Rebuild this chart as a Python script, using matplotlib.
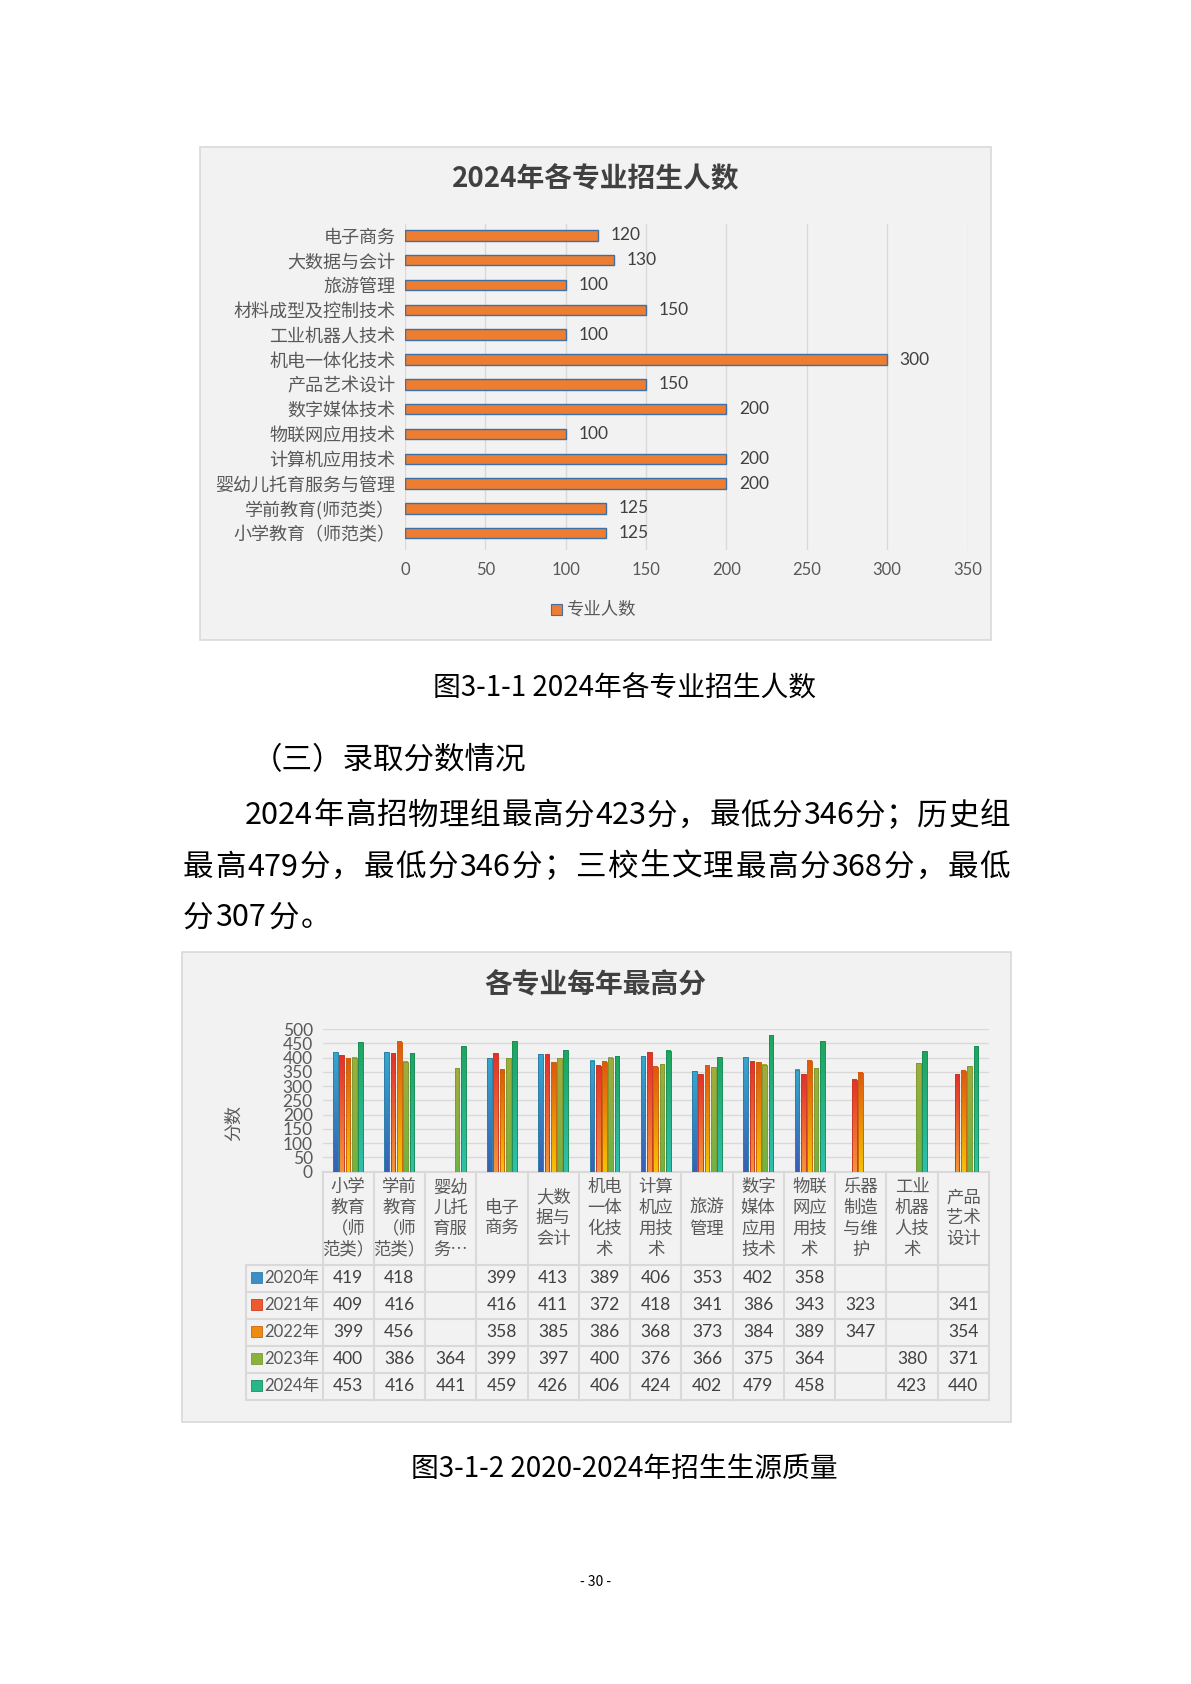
import re
import numpy as np
import matplotlib
matplotlib.use('Agg')
import matplotlib.pyplot as plt
import matplotlib.transforms as mtransforms
from matplotlib.colors import LinearSegmentedColormap
from matplotlib.patches import Rectangle

plt.rcParams['font.family'] = ['Noto Sans CJK SC', 'DejaVu Sans']
NUMFONT = ['Lato', 'Noto Sans CJK SC', 'DejaVu Sans']

# ---------------- data: chart 1 ----------------
title1 = '2024年各专业招生人数'
majors1 = ['电子商务', '大数据与会计', '旅游管理', '材料成型及控制技术', '工业机器人技术',
           '机电一体化技术', '产品艺术设计', '数字媒体技术', '物联网应用技术', '计算机应用技术',
           '婴幼儿托育服务与管理', '学前教育(师范类）', '小学教育（师范类）']
counts1 = [120, 130, 100, 150, 100, 300, 150, 200, 100, 200, 200, 125, 125]
xticks1 = [0, 50, 100, 150, 200, 250, 300, 350]
series1 = '专业人数'

# ---------------- data: chart 2 ----------------
title2 = '各专业每年最高分'
ylabel2 = '分数'
majors2 = ['小学教育（师范类）', '学前教育（师范类）', '婴幼儿托育服务与管理', '电子商务',
           '大数据与会计', '机电一体化技术', '计算机应用技术', '旅游管理', '数字媒体应用技术',
           '物联网应用技术', '乐器制造与维护', '工业机器人技术', '产品艺术设计']
labels2 = ['小学\n教育\n（师\n范类）', '学前\n教育\n（师\n范类）', '婴幼\n儿托\n育服\n务…',
           '电子\n商务', '大数\n据与\n会计', '机电\n一体\n化技\n术', '计算\n机应\n用技\n术',
           '旅游\n管理', '数字\n媒体\n应用\n技术', '物联\n网应\n用技\n术', '乐器\n制造\n与维\n护',
           '工业\n机器\n人技\n术', '产品\n艺术\n设计']
years = ['2020年', '2021年', '2022年', '2023年', '2024年']
nan = np.nan
s2020 = [419, 418, nan, 399, 413, 389, 406, 353, 402, 358, nan, nan, nan]
s2021 = [409, 416, nan, 416, 411, 372, 418, 341, 386, 343, 323, nan, 341]
s2022 = [399, 456, nan, 358, 385, 386, 368, 373, 384, 389, 347, nan, 354]
s2023 = [400, 386, 364, 399, 397, 400, 376, 366, 375, 364, nan, 380, 371]
s2024 = [453, 416, 441, 459, 426, 406, 424, 402, 479, 458, nan, 423, 440]
series2 = [s2020, s2021, s2022, s2023, s2024]
yticks2 = [0, 50, 100, 150, 200, 250, 300, 350, 400, 450, 500]

# ---------------- page text ----------------
caption1 = '图3-1-1 2024年各专业招生人数'
heading = '（三）录取分数情况'
body = ['2024年高招物理组最高分423分，最低分346分；历史组',
        '最高479分，最低分346分；三校生文理最高分368分，最低',
        '分307分。']
caption2 = '图3-1-2 2020-2024年招生生源质量'
pagenum = '- 30 -'

# ---------------- figure ----------------
W, H = 1191, 1684
fig = plt.figure(figsize=(W / 100, H / 100), dpi=100)
fig.patch.set_facecolor('white')
pg = fig.add_axes([0, 0, 1, 1], zorder=0)
pg.set_xlim(0, W)
pg.set_ylim(H, 0)
pg.axis('off')


def ax_rect(l, t, r, b):
    return [l / W, 1 - b / H, (r - l) / W, (b - t) / H]


GRID = '#D9D9D9'
LBL = '#595959'
VAL = '#404040'

# ================= chart 1 =================
pg.add_patch(Rectangle((200, 147), 791, 493, fc='#F2F2F2', ec=GRID, lw=1.2))
pg.text(596, 180, title1, ha='center', va='center', fontsize=20, fontweight='bold', color=VAL)

ax1 = fig.add_axes(ax_rect(405, 223.6, 967.5, 550.4), zorder=1)
ax1.set_facecolor('none')
y1 = np.arange(len(majors1))
ax1.barh(y1, counts1, height=0.42, color='#ED7D31', edgecolor='#3E70A8', lw=1.0, zorder=3)
for yi, v in zip(y1, counts1):
    ax1.annotate(str(v), (v, yi), xytext=(9, 0), textcoords='offset points',
                 ha='left', va='center', fontsize=12.5, color=VAL, family=NUMFONT)
ax1.set_xlim(0, 350)
ax1.set_ylim(12.69, -0.475)
ax1.set_xticks(xticks1)
ax1.set_xticklabels([str(t) for t in xticks1], family=NUMFONT, fontsize=12, color=LBL)
ax1.set_yticks(y1)
ax1.set_yticklabels(majors1, fontsize=13, color=LBL)
ax1.tick_params(length=0)
ax1.tick_params(axis='x', pad=8)
ax1.tick_params(axis='y', pad=7)
ax1.grid(axis='x', color=GRID, lw=1)
ax1.set_axisbelow(True)
for s in ax1.spines.values():
    s.set_visible(False)

# legend
pg.add_patch(Rectangle((551, 604), 11, 11, fc='#ED7D31', ec='#3E70A8', lw=0.8))
pg.text(566, 610, series1, ha='left', va='center', fontsize=12.5, color=LBL)

# ================= page text =================
pg.text(624.6, 689, caption1, ha='center', va='center', fontsize=20, color='black')
pg.text(251.5, 761, heading, ha='left', va='center', fontsize=22, color='black')

rend = fig.canvas.get_renderer()


def justify(s, x0, x1, y, size, full=True):
    toks = re.findall(r'\d+|.', s)
    objs = [pg.text(0, y, t, fontsize=size, va='center', ha='left', color='black') for t in toks]
    widths = [o.get_window_extent(rend).width for o in objs]
    gap = (x1 - x0 - sum(widths)) / (len(toks) - 1) if full else 2.0
    x = x0
    for o, w in zip(objs, widths):
        o.set_x(x)
        x += w + gap


justify(body[0], 245, 1010, 816, 22)
justify(body[1], 183, 1010, 867, 22)
justify(body[2], 183, 1010, 918, 22, full=False)

pg.text(624.6, 1469, caption2, ha='center', va='center', fontsize=20, color='black')
pg.text(595.5, 1582, pagenum, ha='center', va='center', fontsize=10, color='black')

# ================= chart 2 =================
pg.add_patch(Rectangle((181.7, 952), 828.8, 470, fc='#F2F2F2', ec=GRID, lw=1.2))
pg.text(595.5, 985, title2, ha='center', va='center', fontsize=20, fontweight='bold', color=VAL)
pg.text(234, 1123, ylabel2, ha='center', va='center', rotation=90, fontsize=13, color=LBL)

ax2 = fig.add_axes(ax_rect(322.5, 1029, 989, 1171.7), zorder=1)
ax2.set_facecolor('none')
x2 = np.arange(len(majors2))
bw = 0.091
step = 0.123
grads = [('#3A5FB5', '#35A8CC', '#2E7FA8', '#3B8FC6'),
         ('#F3953A', '#E5302A', '#C83A26', '#EE5A2E'),
         ('#F5C400', '#E0570E', '#C8650E', '#EE8C10'),
         ('#70B443', '#A3AC3A', '#7E9A34', '#8CB23E'),
         ('#2EC1AE', '#1FA55E', '#1C8E5A', '#27B58A')]
grad = np.linspace(0, 1, 64).reshape(-1, 1)
for k, vals in enumerate(series2):
    bot, top, edge, mid = grads[k]
    cmap = LinearSegmentedColormap.from_list('g%d' % k, [bot, top])
    bars = ax2.bar(x2 + (k - 2) * step, vals, width=bw, facecolor='none',
                   edgecolor=edge, lw=0.7, zorder=4)
    for r in bars:
        h = r.get_height()
        if np.isfinite(h) and h > 0:
            x0 = r.get_x()
            ax2.imshow(grad, extent=[x0, x0 + bw, 0, h], origin='lower', cmap=cmap,
                       aspect='auto', zorder=3, interpolation='bilinear')
ax2.set_xlim(-0.5, len(majors2) - 0.5)
ax2.set_ylim(0, 500)
ax2.set_yticks(yticks2)
ax2.set_yticklabels([str(t) for t in yticks2], family=NUMFONT, fontsize=12.5, color=LBL)
ax2.set_xticks([])
ax2.tick_params(length=0)
ax2.tick_params(axis='y', pad=7)
ax2.grid(axis='y', color=GRID, lw=1)
ax2.set_axisbelow(True)
for name, s in ax2.spines.items():
    s.set_visible(name == 'bottom')
ax2.spines['bottom'].set_color(GRID)
ax2.spines['bottom'].set_linewidth(1.5)

# data table under the axis
bt = mtransforms.blended_transform_factory(ax2.transData, pg.transData)
head_top, head_bot = 1171.7, 1265.0
rowh = 26.9
tab_left = 246
tab_bot = head_bot + rowh * len(years)
for xb in np.arange(-0.5, len(majors2), 1.0):
    pg.plot([xb, xb], [head_top, tab_bot], transform=bt, color=GRID, lw=1.5, clip_on=False, zorder=2)
pg.plot([tab_left, tab_left], [head_bot, tab_bot], color=GRID, lw=1.5, zorder=2)
for k in range(len(years) + 1):
    yy = head_bot + rowh * k
    pg.plot([tab_left, 989], [yy, yy], color=GRID, lw=1.5, zorder=2)

for i, lab in enumerate(labels2):
    pg.text(i, (head_top + head_bot) / 2, lab, transform=bt, ha='center', va='center',
            multialignment='center', fontsize=12.5, linespacing=1.2, color=LBL)

for k, (yr, vals) in enumerate(zip(years, series2)):
    yc = head_bot + rowh * (k + 0.5)
    pg.add_patch(Rectangle((251, yc - 6), 11, 11, fc=grads[k][3], ec=grads[k][2], lw=0.6))
    pg.text(264, yc, yr, ha='left', va='center', fontsize=12, family=NUMFONT, color=LBL)
    for i, v in enumerate(vals):
        if np.isfinite(v):
            pg.text(i, yc, str(int(v)), transform=bt, ha='center', va='center',
                    fontsize=12.5, family=NUMFONT, color=VAL)

fig.savefig('out.png', dpi=100, facecolor='white')
